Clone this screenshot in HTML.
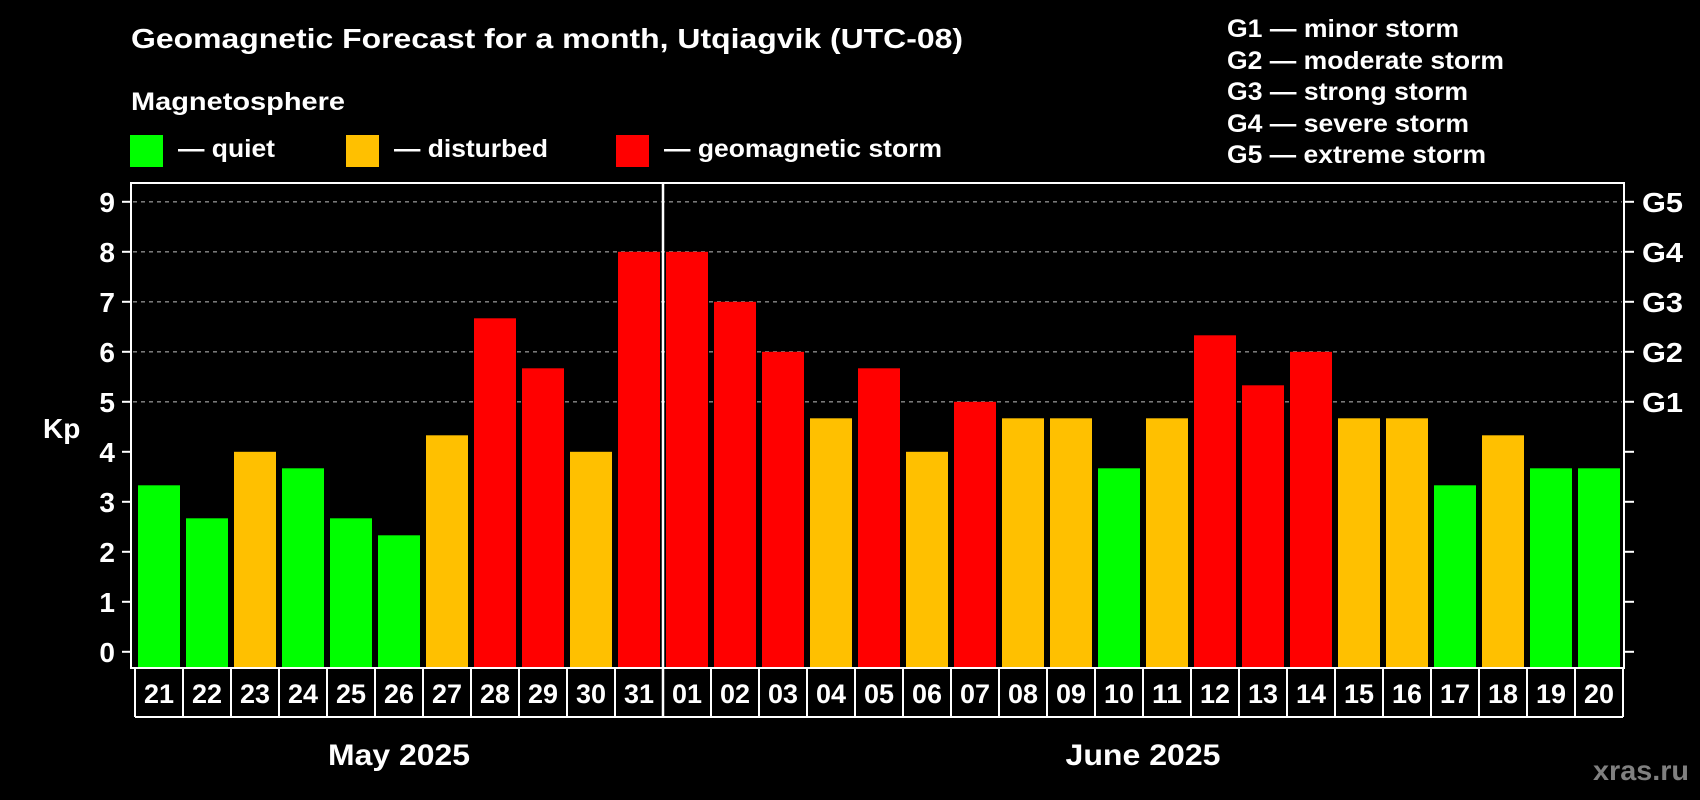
<!DOCTYPE html>
<html><head><meta charset="utf-8"><style>
html,body{margin:0;padding:0;background:#000;}
svg{display:block;font-family:"Liberation Sans",Arial,sans-serif;font-weight:bold;}
</style></head><body>
<svg id="chart" width="1700" height="800" viewBox="0 0 1700 800" xmlns="http://www.w3.org/2000/svg">
<rect width="1700" height="800" fill="#000"/>
<text x="131" y="48" font-size="28" fill="#fff" textLength="832" lengthAdjust="spacingAndGlyphs">Geomagnetic Forecast for a month, Utqiagvik (UTC-08)</text>
<text x="131" y="110" font-size="25" fill="#fff" textLength="214" lengthAdjust="spacingAndGlyphs">Magnetosphere</text>
<g>
<rect x="130" y="135" width="33" height="32" fill="#00ff00"/>
<text x="178" y="157" font-size="25" fill="#fff" textLength="97" lengthAdjust="spacingAndGlyphs">— quiet</text>
</g>
<g>
<rect x="346" y="135" width="33" height="32" fill="#ffc000"/>
<text x="394" y="157" font-size="25" fill="#fff" textLength="154" lengthAdjust="spacingAndGlyphs">— disturbed</text>
</g>
<g>
<rect x="616" y="135" width="33" height="32" fill="#ff0000"/>
<text x="664" y="157" font-size="25" fill="#fff" textLength="278" lengthAdjust="spacingAndGlyphs">— geomagnetic storm</text>
</g>
<g font-size="25" fill="#fff">
<text x="1227" y="37" textLength="232" lengthAdjust="spacingAndGlyphs">G1 — minor storm</text>
<text x="1227" y="69" textLength="277" lengthAdjust="spacingAndGlyphs">G2 — moderate storm</text>
<text x="1227" y="100" textLength="241" lengthAdjust="spacingAndGlyphs">G3 — strong storm</text>
<text x="1227" y="132" textLength="242" lengthAdjust="spacingAndGlyphs">G4 — severe storm</text>
<text x="1227" y="163" textLength="259" lengthAdjust="spacingAndGlyphs">G5 — extreme storm</text>
</g>
<text x="43" y="438" font-size="28" fill="#fff">Kp</text>
<g id="grid"></g>
<g id="bars"></g>
<g id="axes"></g>
<text x="399" y="765" font-size="30" fill="#fff" text-anchor="middle" textLength="142" lengthAdjust="spacingAndGlyphs">May 2025</text>
<text x="1143" y="765" font-size="30" fill="#fff" text-anchor="middle" textLength="155" lengthAdjust="spacingAndGlyphs">June 2025</text>
<text x="1689" y="780" font-size="28" fill="#808080" text-anchor="end" textLength="96" lengthAdjust="spacingAndGlyphs">xras.ru</text>
</svg>
<script>
const days = ["21","22","23","24","25","26","27","28","29","30","31","01","02","03","04","05","06","07","08","09","10","11","12","13","14","15","16","17","18","19","20"];
const kpValues = [3.33,2.67,4,3.67,2.67,2.33,4.33,6.67,5.67,4,8,8,7,6,4.67,5.67,4,5,4.67,4.67,3.67,4.67,6.33,5.33,6,4.67,4.67,3.33,4.33,3.67,3.67];
const yTicks = ["0","1","2","3","4","5","6","7","8","9"];
const gTicks = ["","","","","","G1","G2","G3","G4","G5"];
const monthSplit = 11;

const NS = "http://www.w3.org/2000/svg";
const X0 = 135, SLOT = 48, BW = 42;
const Y0 = 651.8, UNIT = 50;
const FL = 131, FR = 1624, FT = 183, FB = 668, BOXB = 717;
function xPos(i){ return X0 + i*SLOT; }
function yPos(v){ return Y0 - v*UNIT; }
function mk(tag, attrs, parent){
  const e = document.createElementNS(NS, tag);
  for (const k in attrs) e.setAttribute(k, attrs[k]);
  parent.appendChild(e); return e;
}
function color(v){ return v >= 5 ? "#ff0000" : (v >= 4 ? "#ffc000" : "#00ff00"); }

const grid = document.getElementById("grid");
for (let v = 5; v <= 9; v++){
  const l = mk("line", {x1:FL+2, x2:FR-2, y1:yPos(v), y2:yPos(v), stroke:"#8a8a8a", "stroke-width":1.3, "stroke-dasharray":"4,4"}, grid);
  
  
}

const bars = document.getElementById("bars");
kpValues.forEach((v, i) => {
  const r = mk("rect", {x:xPos(i)+3, y:yPos(v), width:BW, height:FB - yPos(v), fill:color(v)}, bars);
  
  
});

const axes = document.getElementById("axes");
const frame = mk("rect", {x:FL, y:FT, width:FR-FL, height:FB-FT, fill:"none", stroke:"#fff", "stroke-width":2}, axes);



yTicks.forEach((t, v) => {
  const tk = mk("line", {x1:122, x2:FL, y1:yPos(v), y2:yPos(v), stroke:"#fff", "stroke-width":2}, axes);
  
  
  const tx = mk("text", {x:115, y:yPos(v)+10, "font-size":28, fill:"#fff", "text-anchor":"end"}, axes);
  tx.textContent = t;
  
  
  const rt = mk("line", {x1:FR, x2:FR+10, y1:yPos(v), y2:yPos(v), stroke:"#fff", "stroke-width":2}, axes);
  
  
  if (gTicks[v]){
    const g = mk("text", {x:1642, y:yPos(v)+10, "font-size":28, fill:"#fff", textLength:41, lengthAdjust:"spacingAndGlyphs"}, axes);
    g.textContent = gTicks[v];
    
    
  }
});

// day label boxes
const bl = mk("line", {x1:X0, x2:xPos(days.length), y1:BOXB, y2:BOXB, stroke:"#fff", "stroke-width":2}, axes);


for (let i = 0; i <= days.length; i++){
  const l = mk("line", {x1:xPos(i), x2:xPos(i), y1:FB, y2:BOXB, stroke:"#fff", "stroke-width":2}, axes);
  
  
}
days.forEach((d, i) => {
  const t = mk("text", {x:xPos(i)+SLOT/2, y:703, "font-size":27, fill:"#fff", "text-anchor":"middle", textLength:30, lengthAdjust:"spacingAndGlyphs"}, axes);
  t.textContent = d;
  
  
});
const ms = mk("line", {x1:xPos(monthSplit), x2:xPos(monthSplit), y1:FT, y2:BOXB, stroke:"#fff", "stroke-width":2.5}, axes);


</script>
</body></html>
